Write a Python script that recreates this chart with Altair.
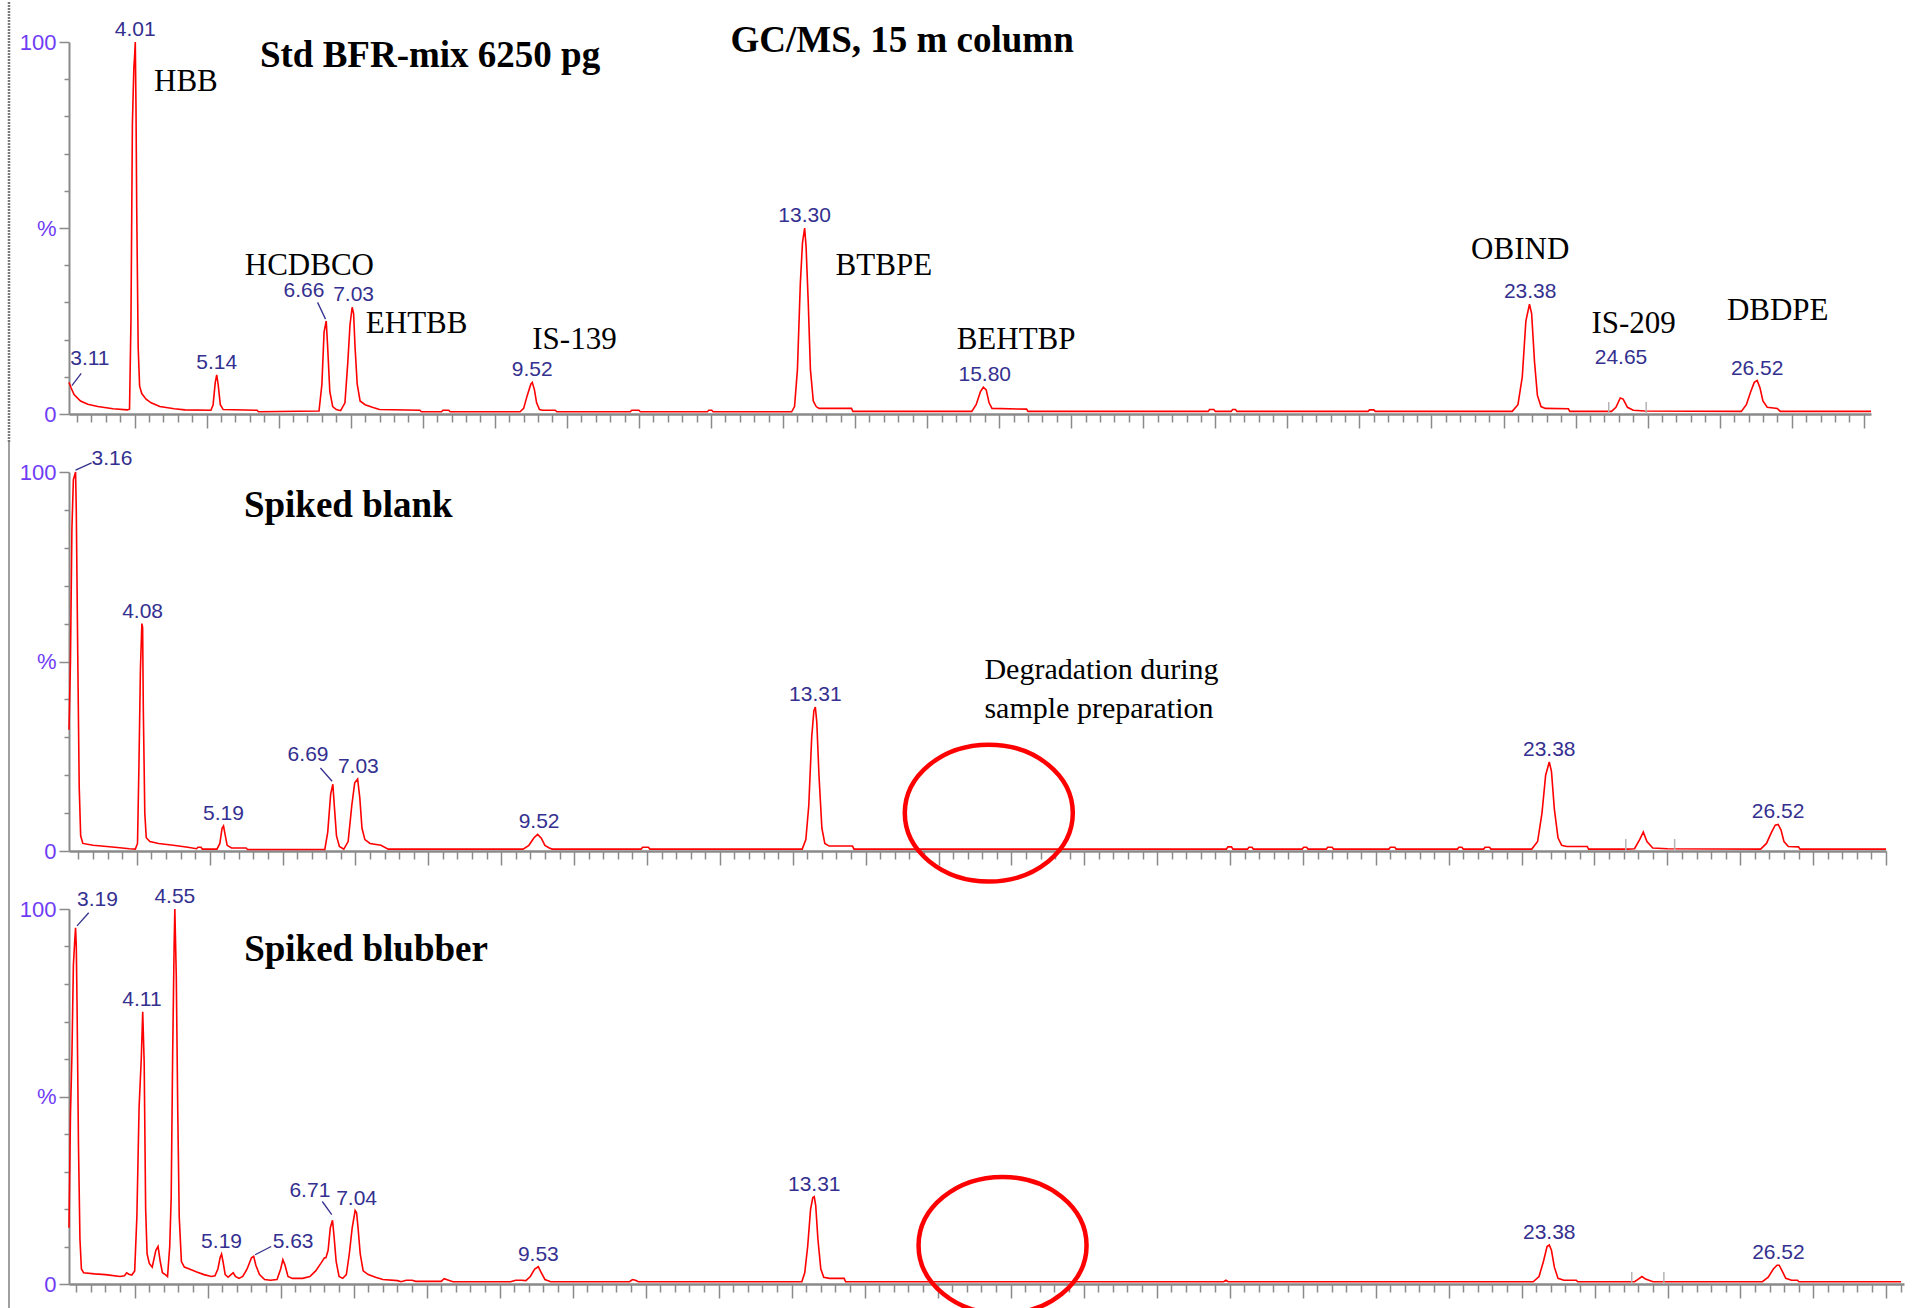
import altair as alt
import pandas as pd

# ---------------- data ----------------
# (retention time [min], relative abundance [%])
STD_TRACE = [
    (3.09, 8.5), (3.12, 7.0), (3.16, 5.2), (3.25, 3.5), (3.35, 2.6), (3.49, 2.0), (3.70, 1.4), (3.90, 1.1),
    (3.93, 1.3), (3.95, 25), (3.97, 78), (3.99, 93), (4.00, 96), (4.01, 100), (4.02, 82), (4.03, 55),
    (4.05, 18), (4.07, 7.5), (4.10, 5.5), (4.16, 4.0), (4.23, 3.0), (4.35, 2.0), (4.55, 1.4), (4.70, 1.1),
    (5.06, 1.0), (5.09, 2.5), (5.12, 8.5), (5.14, 10.5), (5.16, 8.0), (5.19, 2.5), (5.23, 1.2), (5.70, 1.0),
    (5.72, 0.6), (6.56, 0.8), (6.60, 8), (6.63, 22), (6.66, 25), (6.68, 18), (6.71, 6), (6.75, 2),
    (6.80, 1.2), (6.86, 0.9), (6.92, 3), (6.96, 14), (6.99, 24), (7.02, 28.7), (7.04, 27), (7.06, 18),
    (7.09, 8), (7.13, 3.5), (7.20, 2.5), (7.30, 1.8), (7.40, 1.2), (7.96, 1.0), (7.98, 0.6), (8.26, 0.6),
    (8.28, 1.0), (8.36, 1.0), (8.38, 0.6), (9.35, 0.6), (9.40, 1.5), (9.45, 5), (9.50, 8), (9.52, 8.5),
    (9.55, 6.5), (9.58, 3), (9.62, 1.2), (9.66, 1.0), (9.84, 1.0), (9.86, 0.6), (10.88, 0.6), (10.90, 1.0),
    (11.00, 1.0), (11.02, 0.6), (11.95, 0.6), (11.97, 1.0), (12.01, 1.0), (12.03, 0.6), (13.12, 0.6),
    (13.16, 2), (13.20, 12), (13.24, 35), (13.27, 46), (13.30, 50), (13.32, 45), (13.35, 30), (13.38, 12),
    (13.42, 3.5), (13.46, 2.0), (13.50, 1.5), (13.95, 1.5), (13.97, 0.7), (15.62, 0.7), (15.68, 2.5),
    (15.74, 6), (15.78, 7.2), (15.82, 6.5), (15.86, 3), (15.90, 1.5), (16.38, 1.3), (16.40, 0.7),
    (18.90, 0.7), (18.92, 1.2), (18.98, 1.2), (19.00, 0.7), (19.22, 0.7), (19.24, 1.2), (19.28, 1.2),
    (19.30, 0.7), (21.12, 0.7), (21.14, 1.1), (21.20, 1.1), (21.22, 0.7), (23.12, 0.7), (23.20, 2.5),
    (23.26, 10), (23.31, 25), (23.36, 29.5), (23.39, 27), (23.43, 14), (23.47, 5), (23.52, 2), (23.58, 1.5),
    (23.90, 1.4), (23.92, 0.7), (24.50, 0.7), (24.56, 1.8), (24.62, 4.3), (24.66, 4.0), (24.72, 1.8),
    (24.80, 1.0), (24.96, 0.8), (26.30, 0.7), (26.37, 2.5), (26.43, 6), (26.48, 8.5), (26.52, 9),
    (26.56, 7), (26.60, 3.5), (26.66, 1.8), (26.80, 1.5), (26.84, 0.7), (28.10, 0.7),
]

BLANK_TRACE = [
    (3.07, 32), (3.09, 50), (3.11, 85), (3.13, 98), (3.16, 100), (3.17, 90), (3.19, 52), (3.21, 17),
    (3.23, 4), (3.26, 2), (3.40, 1.5), (3.70, 1.0), (3.90, 0.6), (3.98, 0.5), (4.01, 2), (4.03, 23),
    (4.05, 48), (4.07, 60), (4.08, 59), (4.09, 37), (4.11, 10), (4.13, 3.5), (4.18, 2.5), (4.30, 2.0),
    (4.50, 1.5), (4.70, 1.0), (4.82, 0.6), (4.84, 1.0), (4.88, 1.0), (4.90, 0.5), (5.10, 0.5), (5.14, 2),
    (5.17, 6), (5.19, 6.6), (5.21, 4.5), (5.24, 1.5), (5.30, 0.8), (5.50, 0.8), (5.52, 0.4), (6.58, 0.4),
    (6.62, 5), (6.66, 15), (6.69, 17.6), (6.71, 12), (6.74, 4), (6.78, 1.2), (6.84, 0.5), (6.90, 2.5),
    (6.95, 12), (6.99, 18), (7.03, 19), (7.06, 14), (7.09, 6), (7.13, 3), (7.20, 2), (7.35, 1.5),
    (7.45, 0.5), (9.30, 0.5), (9.38, 1.5), (9.45, 3.5), (9.50, 4.4), (9.55, 3.4), (9.60, 1.5), (9.66, 0.8),
    (9.70, 0.5), (10.92, 0.5), (10.94, 1.0), (11.02, 1.0), (11.04, 0.5), (13.13, 0.5), (13.18, 3),
    (13.22, 12), (13.26, 30), (13.29, 37), (13.31, 38), (13.33, 34), (13.36, 20), (13.40, 6), (13.44, 2),
    (13.50, 1.3), (13.82, 1.3), (13.84, 0.5), (18.95, 0.5), (18.97, 1.1), (19.02, 1.1), (19.04, 0.5),
    (19.24, 0.5), (19.26, 1.0), (19.30, 1.0), (19.32, 0.5), (19.99, 0.5), (20.01, 1.0), (20.05, 1.0),
    (20.07, 0.5), (20.32, 0.5), (20.34, 1.0), (20.40, 1.0), (20.42, 0.5), (21.18, 0.5), (21.20, 1.0),
    (21.26, 1.0), (21.28, 0.5), (22.12, 0.5), (22.14, 1.0), (22.18, 1.0), (22.20, 0.5), (22.48, 0.5),
    (22.50, 1.0), (22.56, 1.0), (22.58, 0.5), (23.14, 0.5), (23.22, 2.5), (23.28, 10), (23.33, 20),
    (23.38, 23.5), (23.41, 21), (23.45, 11), (23.50, 3.5), (23.55, 1.5), (23.62, 1.2), (23.90, 1.2),
    (23.92, 0.5), (24.45, 0.5), (24.55, 0.6), (24.62, 3), (24.67, 5), (24.72, 2.5), (24.80, 0.8),
    (25.00, 0.6), (26.28, 0.5), (26.36, 2), (26.43, 5), (26.48, 6.8), (26.52, 7), (26.56, 5.5),
    (26.60, 2.5), (26.66, 1.2), (26.80, 1.1), (26.82, 0.5), (28.00, 0.5),
]

BLUBBER_TRACE = [
    (3.10, 15), (3.12, 45), (3.14, 61), (3.16, 85), (3.18, 92), (3.19, 95), (3.20, 90), (3.21, 75),
    (3.23, 37), (3.25, 12), (3.27, 4), (3.30, 3), (3.45, 2.7), (3.60, 2.5), (3.80, 2.0), (3.86, 2.2),
    (3.89, 3.0), (3.92, 2.6), (3.96, 2.4), (4.00, 3.5), (4.03, 18), (4.06, 47), (4.09, 60), (4.11, 72.6),
    (4.13, 59), (4.15, 20), (4.17, 8), (4.20, 5.5), (4.24, 4.5), (4.29, 9), (4.32, 10), (4.35, 6),
    (4.38, 3), (4.42, 2.5), (4.45, 2), (4.48, 10), (4.50, 23), (4.52, 61), (4.54, 90), (4.55, 100),
    (4.57, 82), (4.59, 46), (4.61, 18), (4.64, 6), (4.68, 4.5), (4.75, 4), (4.85, 3.2), (4.95, 2.5),
    (5.05, 2.0), (5.10, 2.2), (5.14, 4), (5.17, 7), (5.19, 8), (5.21, 6), (5.24, 2.5), (5.28, 1.8),
    (5.32, 2.5), (5.35, 3.0), (5.38, 2.0), (5.43, 1.5), (5.48, 2), (5.54, 4), (5.60, 7), (5.63, 7.4),
    (5.66, 5), (5.71, 2.5), (5.78, 1.2), (5.86, 1.0), (5.95, 1.2), (6.00, 4), (6.03, 6.5), (6.06, 5),
    (6.10, 2), (6.16, 1.5), (6.30, 1.5), (6.40, 2), (6.48, 3.5), (6.55, 5.5), (6.60, 7), (6.62, 7),
    (6.65, 9), (6.68, 15), (6.71, 17), (6.73, 13), (6.76, 6), (6.80, 2), (6.85, 1.5), (6.90, 2.5),
    (6.94, 8), (6.98, 15), (7.02, 19.6), (7.04, 19), (7.06, 15), (7.09, 8), (7.13, 3.5), (7.20, 2.5),
    (7.30, 1.8), (7.40, 1.2), (7.60, 0.9), (7.65, 0.6), (7.72, 1.0), (7.80, 1.0), (7.85, 0.7), (8.20, 0.7),
    (8.24, 1.4), (8.30, 1.0), (8.36, 0.6), (9.15, 0.6), (9.22, 1.0), (9.30, 1.0), (9.36, 0.9), (9.42, 2.0),
    (9.48, 4), (9.53, 4.6), (9.57, 3), (9.62, 1.2), (9.70, 0.6), (10.78, 0.6), (10.82, 1.2), (10.86, 1.0),
    (10.90, 0.6), (13.14, 0.6), (13.18, 3), (13.22, 10), (13.26, 20), (13.29, 23), (13.31, 23.3),
    (13.33, 21), (13.36, 12), (13.40, 4), (13.44, 1.8), (13.52, 1.5), (13.72, 1.5), (13.74, 0.6),
    (18.92, 0.6), (18.95, 1.0), (18.98, 0.6), (23.16, 0.6), (23.24, 2), (23.30, 6), (23.35, 10),
    (23.38, 10.4), (23.41, 9), (23.45, 4.5), (23.50, 1.5), (23.58, 1.0), (23.75, 1.0), (23.77, 0.6),
    (24.55, 0.6), (24.60, 1.3), (24.65, 2), (24.70, 1.3), (24.80, 0.6), (26.30, 0.6), (26.38, 1.8),
    (26.45, 4), (26.50, 5), (26.53, 5), (26.57, 3.5), (26.62, 1.5), (26.70, 1.0), (26.78, 1.0),
    (26.80, 0.6), (28.20, 0.6),
]

# peak labels drawn straight above the apex: (label, time, apex height)
STD_PEAKS = [("4.01", 4.01, 100), ("5.14", 5.14, 10.5), ("7.03", 7.04, 28.7), ("9.52", 9.52, 8.5),
             ("13.30", 13.30, 50), ("15.80", 15.80, 7.2), ("23.38", 23.37, 29.5), ("26.52", 26.52, 9)]
BLANK_PEAKS = [("4.08", 4.08, 60), ("5.19", 5.19, 6.6), ("7.03", 7.04, 19), ("9.52", 9.52, 4.4),
               ("13.31", 13.31, 38), ("23.38", 23.38, 23.5), ("26.52", 26.52, 7)]
BLUBBER_PEAKS = [("4.11", 4.10, 72.6), ("4.55", 4.55, 100), ("5.19", 5.19, 8), ("7.04", 7.04, 19.6),
                 ("9.53", 9.53, 4.6), ("13.31", 13.31, 23.3), ("23.38", 23.38, 10.4), ("26.52", 26.52, 5)]

# peak labels set aside from their peak: (label, time, height of label centre)
STD_OFFSET_LABELS = [("3.11", 3.38, 14.7), ("6.66", 6.35, 33.1), ("24.65", 24.63, 15.1)]
BLANK_OFFSET_LABELS = [("3.16", 3.66, 103.4), ("6.69", 6.35, 25.2)]
BLUBBER_OFFSET_LABELS = [("3.19", 3.49, 102.3), ("5.63", 6.17, 11.3), ("6.71", 6.40, 24.9)]

# leader lines joining those labels to the peaks: (t1, y1, t2, y2)
STD_LEADERS = [(3.26, 10.9, 3.13, 7.6), (6.54, 30.0, 6.65, 25.5)]
BLANK_LEADERS = [(3.38, 102.4, 3.16, 100.5), (6.52, 21.9, 6.68, 18.4)]
BLUBBER_LEADERS = [(3.37, 99.0, 3.21, 95.5), (5.87, 10.0, 5.65, 7.8), (6.57, 22.0, 6.70, 18.5)]

# compound names (left edge time, centre height)
STD_NAMES = [("HBB", 4.27, 89.3), ("HCDBCO", 5.53, 39.9), ("EHTBB", 7.21, 24.1), ("IS-139", 9.52, 20.0),
             ("BTBPE", 13.73, 39.9), ("BEHTBP", 15.41, 20.0), ("OBIND", 22.55, 44.2),
             ("IS-209", 24.22, 24.3), ("DBDPE", 26.10, 27.8)]
STD_TITLES = [("Std BFR-mix 6250 pg", 5.74, 96.3), ("GC/MS, 15 m column", 12.27, 100.3)]
BLANK_TITLES = [("Spiked blank", 5.47, 90.9)]
BLUBBER_TITLES = [("Spiked blubber", 5.50, 89.0)]
BLANK_NOTES = [("Degradation during", 15.63, 47.8), ("sample preparation", 15.63, 37.5)]

# integration markers around the IS-209 peak
STD_MARKS = [24.46, 24.98]
BLANK_MARKS = [24.43, 25.10]
BLUBBER_MARKS = [24.51, 24.95]

# red circles (centre time, centre height)
BLANK_CIRCLE = [(15.69, 10.0)]
BLUBBER_CIRCLE = [(15.89, 10.3)]

Y_TICKS = [0, 10, 20, 30, 40, 50, 60, 70, 80, 90, 100]

# ---------------- styles ----------------
TRACE_RED = "#ff0000"
LABEL_BLUE = "#34308f"
AXIS_VIOLET = "#6f3cf6"
AXIS_GREY = "#8a8a8a"
SERIF = "Liberation Serif"
SANS = "Liberation Sans"
ELLIPSE = "M -1 0 A 1 0.815 0 1 1 1 0 A 1 0.815 0 1 1 -1 0 Z"

X_AXIS = alt.Axis(labels=False, grid=False, tickCount=125, domainColor=AXIS_GREY, title=None,
                  domainWidth=2.5, tickColor=AXIS_GREY, tickWidth=1.5,
                  tickSize={"condition": {"test": "abs(datum.value - round(datum.value)) < 0.001",
                                          "value": 14}, "value": 8})
Y_AXIS = alt.Axis(values=Y_TICKS, grid=False, domainColor=AXIS_GREY, domainWidth=2, title=None,
                  tickColor=AXIS_GREY, tickWidth=1.5,
                  tickSize={"condition": {"test": "datum.value % 50 === 0", "value": 10}, "value": 5},
                  labelExpr="datum.value === 50 ? '%' : (datum.value % 100 === 0 ? datum.label : '')",
                  labelColor=AXIS_VIOLET, labelFont=SANS, labelFontSize=22, labelPadding=3)


def panel(trace, peaks, offset_labels, leaders, names, titles, marks, domain, width, height,
          edge_top, edge_bottom, edge_dash, circle=None, notes=None):
    xs = alt.Scale(domain=domain, nice=False, zero=False)
    ys = alt.Scale(domain=[0, 100], nice=False, zero=False)

    def X(f):
        return alt.X(f, type="quantitative", scale=xs, axis=X_AXIS, title=None)

    def Y(f):
        return alt.Y(f, type="quantitative", scale=ys, axis=Y_AXIS, title=None)

    tr = pd.DataFrame(trace, columns=["t", "y"])
    layers = [alt.Chart(tr).mark_line(color=TRACE_RED, strokeWidth=1.6).encode(
        x=X("t"), y=Y("y"), order="t:Q")]

    pk = pd.DataFrame(peaks, columns=["lab", "t", "h"])
    layers.append(alt.Chart(pk).mark_text(font=SANS, fontSize=21, color=LABEL_BLUE,
                                          baseline="alphabetic", dy=-6).encode(
        x=X("t"), y=Y("h"), text="lab:N"))

    ol = pd.DataFrame(offset_labels, columns=["lab", "t", "h"])
    layers.append(alt.Chart(ol).mark_text(font=SANS, fontSize=21, color=LABEL_BLUE,
                                          baseline="middle").encode(
        x=X("t"), y=Y("h"), text="lab:N"))

    ld = pd.DataFrame(leaders, columns=["t1", "y1", "t2", "y2"])
    layers.append(alt.Chart(ld).mark_rule(color=LABEL_BLUE, strokeWidth=1.3).encode(
        x=X("t1"), x2="t2:Q", y=Y("y1"), y2="y2:Q"))

    mk = pd.DataFrame({"t": marks})
    layers.append(alt.Chart(mk).mark_rule(color="#b4b4b4", strokeWidth=1.5).encode(
        x=X("t"), y=alt.value(height), y2=alt.value(height - 12)))

    if names:
        nm = pd.DataFrame(names, columns=["txt", "t", "y"])
        layers.append(alt.Chart(nm).mark_text(font=SERIF, fontSize=31, color="black",
                                              align="left", baseline="middle").encode(
            x=X("t"), y=Y("y"), text="txt:N"))

    tt = pd.DataFrame(titles, columns=["txt", "t", "y"])
    layers.append(alt.Chart(tt).mark_text(font=SERIF, fontSize=37, fontWeight="bold", color="black",
                                          align="left", baseline="middle").encode(
        x=X("t"), y=Y("y"), text="txt:N"))

    if notes:
        nt = pd.DataFrame(notes, columns=["txt", "t", "y"])
        layers.append(alt.Chart(nt).mark_text(font=SERIF, fontSize=30, color="black",
                                              align="left", baseline="middle").encode(
            x=X("t"), y=Y("y"), text="txt:N"))

    if circle:
        cc = pd.DataFrame(circle, columns=["t", "y"])
        layers.append(alt.Chart(cc).mark_point(shape=ELLIPSE, size=168 * 168, filled=False,
                                               stroke="#ff0000", strokeWidth=4.5, opacity=1).encode(
            x=X("t"), y=Y("y")))

    edge_props = dict(color="#7a7a7a" if edge_dash else "#a0a0a0", strokeWidth=2.5 if edge_dash else 2)
    if edge_dash:
        edge_props["strokeDash"] = [2, 1]
    layers.append(alt.Chart(pd.DataFrame({"k": [0]})).mark_rule(**edge_props).encode(
        x=alt.value(-60), y=alt.value(edge_top), y2=alt.value(edge_bottom)))

    return alt.layer(*layers).properties(width=width, height=height)


p1 = panel(STD_TRACE, STD_PEAKS, STD_OFFSET_LABELS, STD_LEADERS, STD_NAMES, STD_TITLES, STD_MARKS,
           [3.09, 28.1], 1802, 372, -40, 400, True)
p2 = panel(BLANK_TRACE, BLANK_PEAKS, BLANK_OFFSET_LABELS, BLANK_LEADERS, None, BLANK_TITLES, BLANK_MARKS,
           [3.07, 28.0], 1817, 379, -30, 400, False, circle=BLANK_CIRCLE, notes=BLANK_NOTES)
p3 = panel(BLUBBER_TRACE, BLUBBER_PEAKS, BLUBBER_OFFSET_LABELS, BLUBBER_LEADERS, None, BLUBBER_TITLES,
           BLUBBER_MARKS, [3.10, 28.24], 1835, 375, -37, 401, False, circle=BLUBBER_CIRCLE)

chart = alt.vconcat(p1, p2, p3, spacing=58, bounds="flush").properties(
    padding={"left": 7, "top": 0, "right": 0, "bottom": 0},
    background="white",
).configure_view(stroke=None, strokeWidth=0)

chart.save("out.html", embed_options={"renderer": "svg", "actions": False})
